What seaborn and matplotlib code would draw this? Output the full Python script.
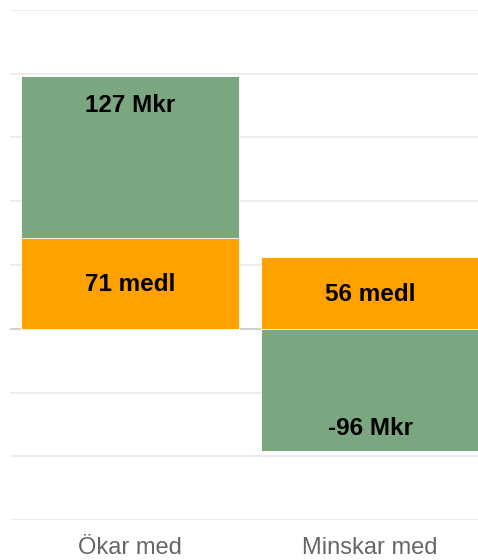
import matplotlib
matplotlib.use("Agg")
import matplotlib.pyplot as plt
import seaborn as sns
import pandas as pd

categories = ["Ökar med", "Minskar med"]
members = [71, 56]
money = [127, -96]
member_labels = ["71 medl", "56 medl"]
money_labels = ["127 Mkr", "-96 Mkr"]
ygrid = [-150, -100, -50, 50, 100, 150, 200, 250]

GREEN = "#7aa77f"
ORANGE = "#ffa200"

sns.set_theme(style="white")
plt.rcParams["font.family"] = ["Liberation Sans", "DejaVu Sans"]

# green stacks on top of orange when positive, below zero when negative
green_top = [m + v if v > 0 else v for m, v in zip(members, money)]
df = pd.DataFrame({"cat": categories, "members": members, "green": green_top})

fig = plt.figure(figsize=(4.78, 5.6), dpi=100)
ax = fig.add_axes([10 / 478, 40 / 560, 480 / 478, 510 / 560])

for g in ygrid:
    ax.axhline(g, color="#ececec", lw=1.3, zorder=0)
ax.axhline(0, color="#cccccc", lw=1.3, zorder=0.5)

sns.barplot(data=df, x="cat", y="green", color=GREEN, saturation=1, width=0.91,
            edgecolor="white", linewidth=0.6, ax=ax, zorder=2)
sns.barplot(data=df, x="cat", y="members", color=ORANGE, saturation=1, width=0.91,
            edgecolor="white", linewidth=0.6, ax=ax, zorder=3)

for i, (m, v) in enumerate(zip(members, money)):
    ax.annotate(member_labels[i], (i, m / 2), xytext=(0, -1.5), textcoords="offset pixels",
                ha="center", va="center", fontsize=17.5, fontweight="bold",
                color="black", zorder=5)
    top = green_top[i]
    if v > 0:
        ax.annotate(money_labels[i], (i, top), xytext=(0, -29.5), textcoords="offset pixels",
                    ha="center", va="center", fontsize=17.5, fontweight="bold",
                    color="black", zorder=5)
    else:
        ax.annotate(money_labels[i], (i, top), xytext=(0, 23), textcoords="offset pixels",
                    ha="center", va="center", fontsize=17.5, fontweight="bold",
                    color="black", zorder=5)

ax.set_xlim(-0.5, 1.5)
ax.set_ylim(-150, 250)
ax.set_yticks([])
ax.set_xlabel("")
ax.set_ylabel("")
ax.tick_params(axis="x", length=0, pad=12.5, labelsize=17, labelcolor="#666666")
for s in ax.spines.values():
    s.set_visible(False)

fig.savefig("out.png", dpi=100)
